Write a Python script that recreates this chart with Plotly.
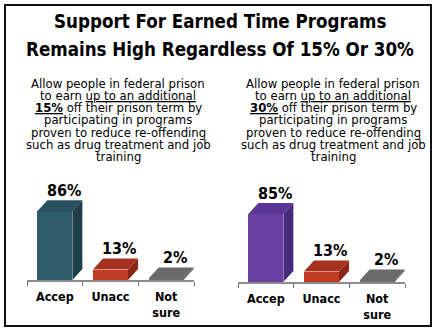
import plotly.graph_objects as go

# ---------------- data ----------------
categories = ["Accep", "Unacc", "Not sure"]
tick_labels = ["Accep", "Unacc", "Not<br>sure"]
values_15 = [86, 13, 2]
values_30 = [85, 13, 2]
value_labels_15 = ["86%", "13%", "2%"]
value_labels_30 = ["85%", "13%", "2%"]
title_lines = ["Support For Earned Time Programs",
               "Remains High Regardless Of 15% Or 30%"]
desc_15 = ["Allow people in federal prison",
           "to earn <u>up to an additional</u>",
           "<b><u>15%</u></b> off their prison term by",
           "participating in programs",
           "proven to reduce re-offending",
           "such as drug treatment and job",
           "training"]
desc_30 = ["Allow people in federal prison",
           "to earn <u>up to an additional</u>",
           "<b><u>30%</u></b> off their prison term by",
           "participating in programs",
           "proven to reduce re-offending",
           "such as drug treatment and job",
           "training"]

# ---------------- style ----------------
W, H = 437, 333
FONT = "DejaVu Sans Condensed, Liberation Sans, sans-serif"
BOLD = "DejaVu Sans Condensed, Liberation Sans, sans-serif"
colors_15 = [("#2F5B6B", "#28505F", "#1E3E4B"),
             ("#C23B25", "#A8301E", "#8A2616"),
             ("#6E6E6E", "#6A6A6A", "#666666")]
colors_30 = [("#6A40A4", "#5B3694", "#482A7C"),
             ("#C23B25", "#A8301E", "#8A2616"),
             ("#6E6E6E", "#6A6A6A", "#666666")]

BAR_W = 0.63
Y_SCALE = 0.8          # px per percentage point
Y_MAX = 110
DX_PX, DY_PX = 10, 11


def px2x(p):
    return p / W


def px2y(p):
    return 1 - p / H


panels = [
    dict(vals=values_15, labels=value_labels_15, cols=colors_15, desc=desc_15,
         x_px=(27, 194), base_px=280, desc_cx=118, xa="x", ya="y"),
    dict(vals=values_30, labels=value_labels_30, cols=colors_30, desc=desc_30,
         x_px=(238, 405), base_px=282, desc_cx=333, xa="x2", ya="y2"),
]

fig = go.Figure()
annotations = []
layout_axes = {}

for k, p in enumerate(panels):
    x0p, x1p = p["x_px"]
    px_per_unit = (x1p - x0p) / 3.0
    dx = DX_PX / px_per_unit
    dy = DY_PX / Y_SCALE
    xpos = list(range(len(categories)))
    # front faces as bars
    fig.add_trace(go.Bar(x=xpos, y=p["vals"], width=BAR_W,
                         marker=dict(color=[c[0] for c in p["cols"]], line=dict(width=0)),
                         xaxis=p["xa"], yaxis=p["ya"], showlegend=False, hoverinfo="skip"))
    for i, v in enumerate(p["vals"]):
        front, top, side = p["cols"][i]
        xl, xr = xpos[i] - BAR_W / 2, xpos[i] + BAR_W / 2
        # top face
        fig.add_trace(go.Scatter(x=[xl, xl + dx, xr + dx, xr, xl],
                                 y=[v, v + dy, v + dy, v, v],
                                 fill="toself", fillcolor=top, mode="lines",
                                 line=dict(width=0, color=top),
                                 xaxis=p["xa"], yaxis=p["ya"], showlegend=False,
                                 hoverinfo="skip"))
        # side face
        fig.add_trace(go.Scatter(x=[xr, xr + dx, xr + dx, xr, xr],
                                 y=[0, dy, v + dy, v, 0],
                                 fill="toself", fillcolor=side, mode="lines",
                                 line=dict(width=0, color=side),
                                 xaxis=p["xa"], yaxis=p["ya"], showlegend=False,
                                 hoverinfo="skip"))
        annotations.append(dict(x=xpos[i] + 0.16, y=v + dy, xref=p["xa"], yref=p["ya"],
                                text="<b>%s</b>" % p["labels"][i], showarrow=False,
                                yanchor="middle", yshift=10,
                                font=dict(family=BOLD, size=16, color="black")))
    xkey = "xaxis" if k == 0 else "xaxis2"
    ykey = "yaxis" if k == 0 else "yaxis2"
    layout_axes[xkey] = dict(domain=[px2x(x0p), px2x(x1p)], range=[-0.5, 2.5],
                             tickvals=xpos, ticktext=tick_labels, ticks="",
                             showline=True, linecolor="#8C8C8C", linewidth=1.5,
                             showgrid=False, zeroline=False, fixedrange=True,
                             ticklabelstandoff=4,
                             tickfont=dict(family=BOLD, size=12.5, color="black",
                                           weight="bold"),
                             minor=dict(tickvals=[-0.5, 0.5, 1.5, 2.5], ticks="outside",
                                        ticklen=4, tickwidth=1, tickcolor="#6E6E6E",
                                        showgrid=False),
                             anchor="y" if k == 0 else "y2")
    b = p["base_px"]
    layout_axes[ykey] = dict(domain=[px2y(b), px2y(b - Y_MAX * Y_SCALE)], range=[0, Y_MAX],
                             visible=False, showgrid=False, zeroline=False,
                             anchor="x" if k == 0 else "x2")
    for j, line in enumerate(p["desc"]):
        annotations.append(dict(x=px2x(p["desc_cx"]), y=px2y(83 + 12.3 * j),
                                xref="paper", yref="paper", text=line, showarrow=False,
                                xanchor="center", yanchor="middle",
                                font=dict(family=FONT, size=13, color="black")))

for j, (line, ypx) in enumerate(zip(title_lines, [22, 49])):
    annotations.append(dict(x=px2x(220), y=px2y(ypx), xref="paper", yref="paper",
                            text="<b>%s</b>" % line, showarrow=False,
                            xanchor="center", yanchor="middle",
                            font=dict(family=BOLD, size=18.6, color="black")))

fig.update_layout(
    width=W, height=H, margin=dict(l=0, r=0, t=0, b=0),
    paper_bgcolor="white", plot_bgcolor="white",
    bargap=0, showlegend=False, annotations=annotations,
    shapes=[dict(type="rect", xref="paper", yref="paper",
                 x0=px2x(5), x1=px2x(431), y0=px2y(326), y1=px2y(5),
                 line=dict(color="#111111", width=2))],
    **layout_axes,
)

fig.write_html("out.html")
